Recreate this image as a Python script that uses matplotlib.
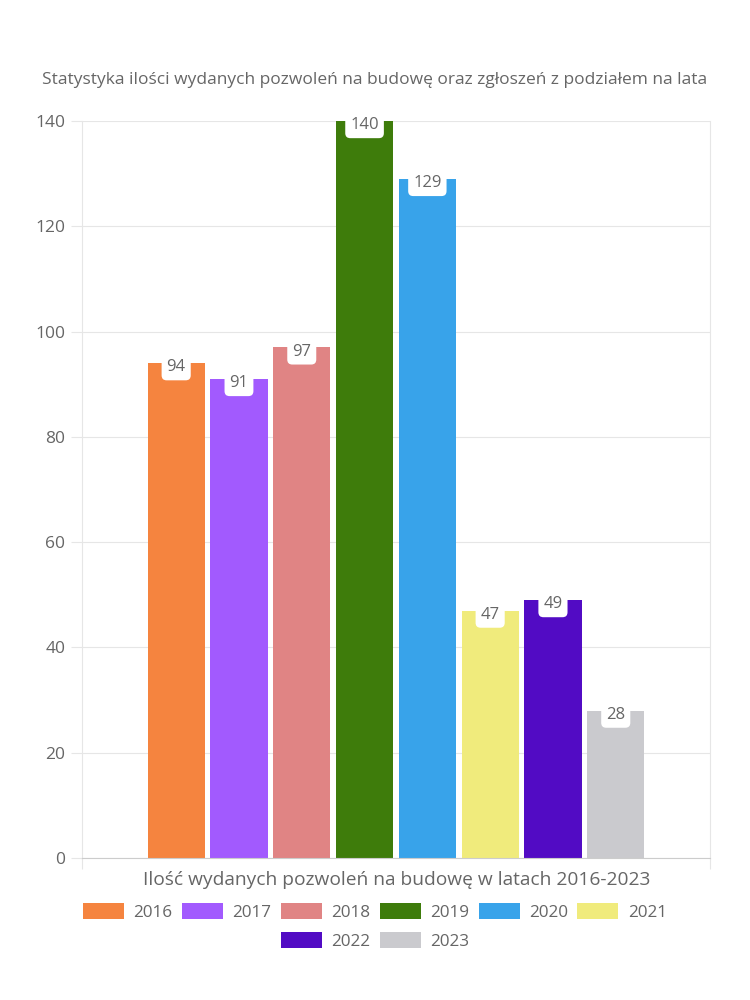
import matplotlib.pyplot as plt
from matplotlib.patches import Patch

years = ["2016", "2017", "2018", "2019", "2020", "2021", "2022", "2023"]
permits = [94, 91, 97, 140, 129, 47, 49, 28]
colors = ["#F5843F", "#A25AFE", "#E08484", "#3E7C0B", "#38A3EA",
          "#F0EB7C", "#520BC4", "#CACACE"]

title = "Statystyka ilości wydanych pozwoleń na budowę oraz zgłoszeń z podziałem na lata"
xlabel = "Ilość wydanych pozwoleń na budowę w latach 2016-2023"
yticks = [0, 20, 40, 60, 80, 100, 120, 140]

plt.rcParams['font.family'] = ['Open Sans', 'DejaVu Sans']
text_color = "#666666"
grid_color = "#e6e6e6"

fig = plt.figure(figsize=(7.5, 10), dpi=100)
ax = fig.add_axes([0.1093, 0.142, 0.8373, 0.737])

step = 0.1
width = 0.091
for i, (y, v, c) in enumerate(zip(years, permits, colors)):
    x = 0.5 + (i - 3.5) * step
    ax.bar(x, v, width=width, color=c, zorder=2)
    ax.annotate(str(v), (x, v), xytext=(0, -3), textcoords="offset points",
                ha="center", va="center", fontsize=12, color=text_color,
                zorder=4,
                bbox=dict(boxstyle="round,pad=0.3,rounding_size=0.3",
                          fc="white", ec="none"))

ax.set_xlim(0, 1)
ax.set_ylim(0, 140)
ax.set_yticks(yticks)
ax.set_xticks([0, 1])
ax.set_xticklabels(["", ""])
ax.tick_params(axis="y", colors=grid_color, labelcolor=text_color,
               labelsize=12.5, length=8, pad=4)
ax.tick_params(axis="x", colors=grid_color, length=8)
ax.grid(axis="y", color=grid_color, linewidth=0.8, zorder=0)
for s in ax.spines.values():
    s.set_color(grid_color)
    s.set_linewidth(0.8)
ax.spines["top"].set_visible(False)
ax.spines["bottom"].set_color("#cccccc")

fig.text(0.5, 0.92, title, ha="center", va="center", fontsize=12.5,
         color=text_color)
fig.text(0.529, 0.12, xlabel, ha="center", va="center", fontsize=13.8,
         color=text_color)

handles = [Patch(facecolor=c, edgecolor="none", label=y)
           for y, c in zip(years, colors)]
leg_kw = dict(frameon=False, fontsize=12.3, handlelength=2.4,
              handleheight=1.05, handletextpad=0.55, columnspacing=0.55,
              labelcolor=text_color, loc="center")
leg1 = fig.legend(handles=handles[:6], ncol=6,
                  bbox_to_anchor=(0.5, 0.088), **leg_kw)
leg2 = fig.legend(handles=handles[6:], ncol=2,
                  bbox_to_anchor=(0.5, 0.059), **leg_kw)

fig.savefig("out.png", dpi=100)
